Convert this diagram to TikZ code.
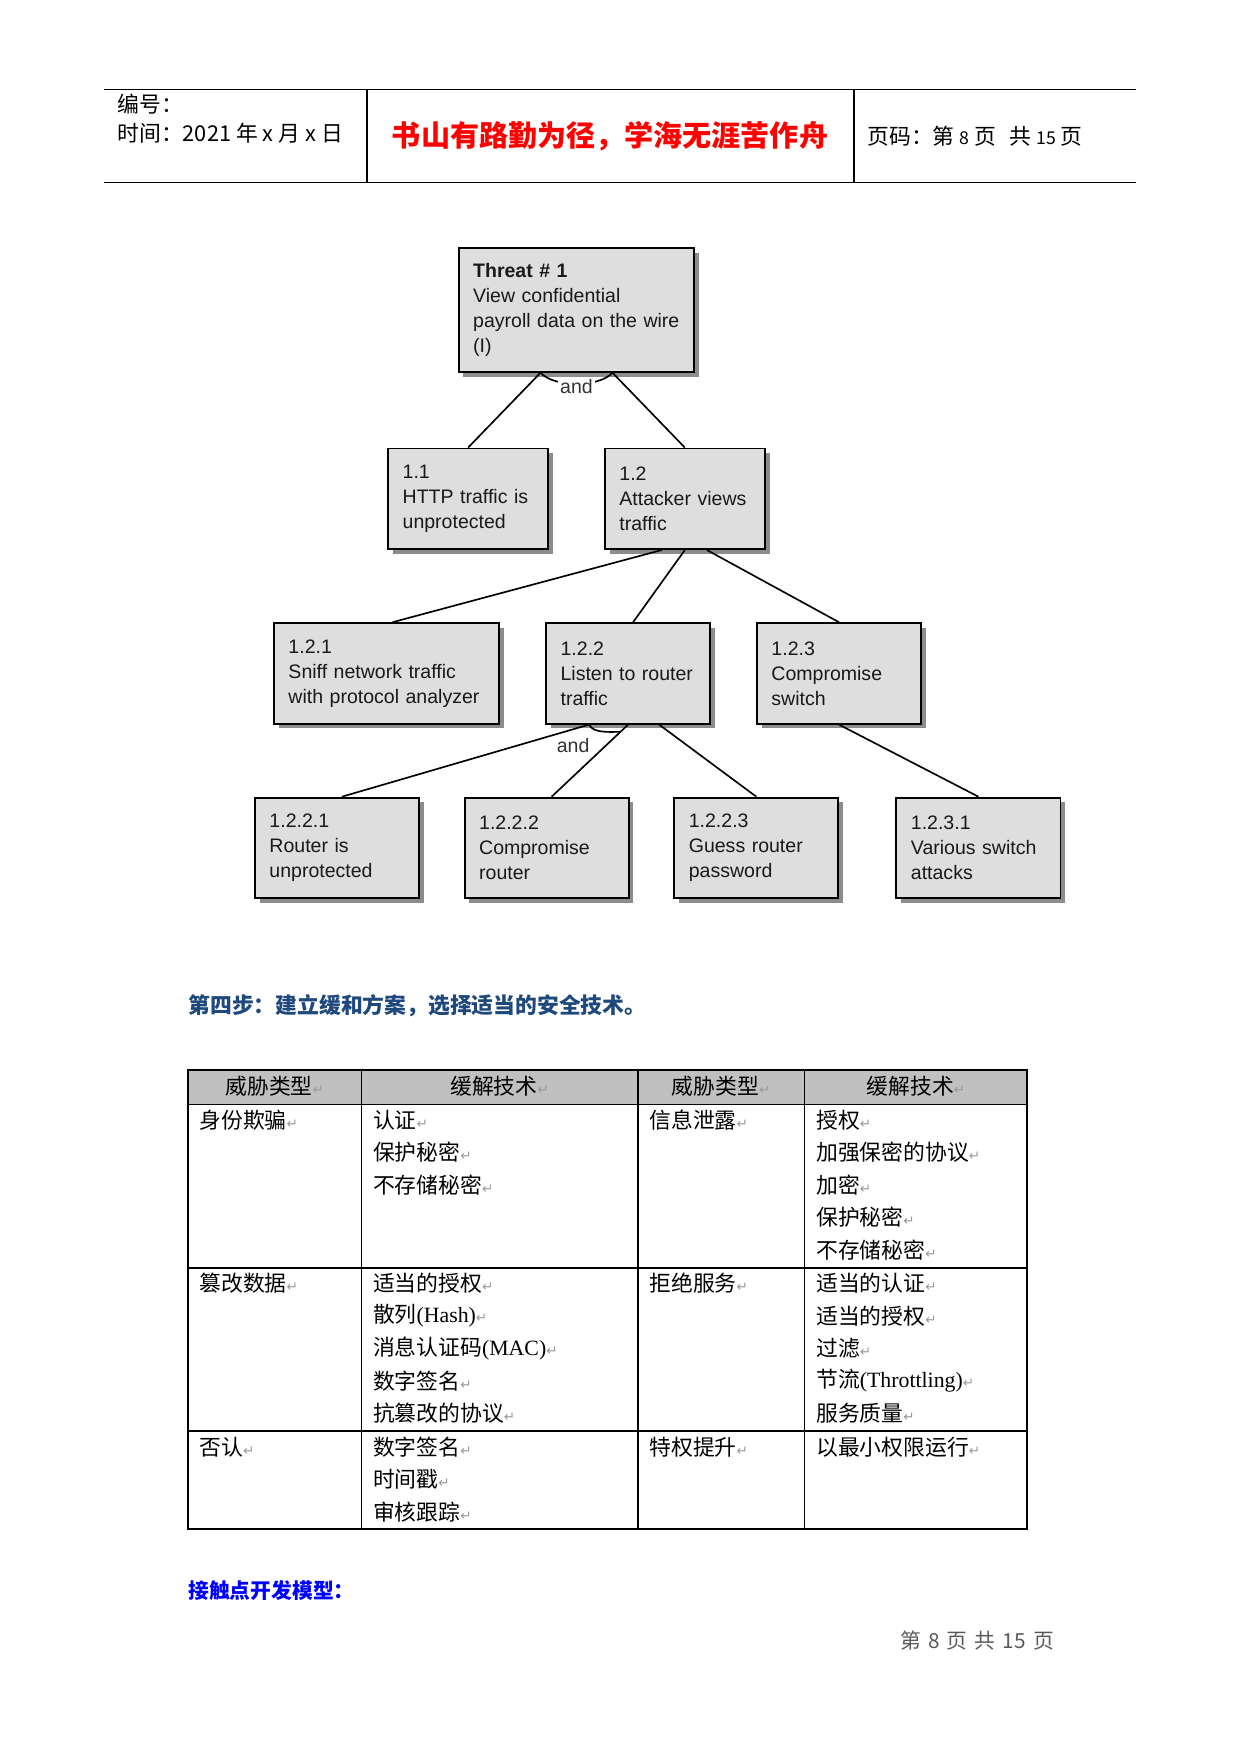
\documentclass[tikz,border=0pt]{standalone}
\usepackage{fontspec}
\usepackage{xcolor}
\setmainfont{Liberation Serif}
\setsansfont{Liberation Sans}
\newfontfamily\cjk{Noto Sans CJK SC}
\newfontfamily\symfont{DejaVu Sans}
\usetikzlibrary{positioning,calc,shadows}
\definecolor{boxgray}{RGB}{222,222,222}
\definecolor{headgray}{RGB}{192,192,192}
\definecolor{stepblue}{RGB}{31,73,125}
\definecolor{titlered}{RGB}{255,0,0}
\definecolor{footgray}{RGB}{90,90,90}
\newcommand{\pmark}{{\symfont\fontsize{6.5pt}{7pt}\selectfont\color{black!40}↵}}

\begin{document}
\begin{tikzpicture}[
  x=0.16922mm, y=-0.16922mm,
  node distance=7.6mm,
  tbox/.style={draw, line width=0.9pt, fill=boxgray, text width=#1,
    minimum height=48.4pt, inner xsep=7pt, align=left, anchor=north west,
    font=\sffamily\fontsize{9.4pt}{12pt}\selectfont, text=black!90,
    drop shadow={shadow xshift=0.8mm, shadow yshift=-0.8mm,
      fill=black!45, opacity=1}},
  tbox/.default=65pt,
  conn/.style={line width=0.8pt},
  andlbl/.style={font=\sffamily\fontsize{9.4pt}{12pt}\selectfont,
    text=black!80, inner sep=1pt},
  hdrtxt/.style={font=\cjk\fontsize{10.5pt}{12pt}\selectfont,
    inner sep=0pt, anchor=west},
  hdr/.style={font=\cjk\fontsize{10.5pt}{12pt}\selectfont, inner sep=0pt},
  cell/.style={font=\cjk\fontsize{10.5pt}{12pt}\selectfont, inner sep=0pt,
    anchor=west},
  tline/.style={line width=0.7pt},
]
\fill[white] (0,0) rectangle (1241,1754);
\useasboundingbox (0,0) rectangle (1241,1754);

% page header
\draw[line width=0.6pt] (104,89.5) -- (1136,89.5);
\draw[line width=0.6pt] (104,182.4) -- (1136,182.4);
\draw[line width=1.1pt] (367,89.5) -- (367,182.4);
\draw[line width=0.5pt] (854,89.5) -- (854,182.4);
\node[hdrtxt] (num) at (117,104) {编号：};
\node[hdrtxt] (date) at (117,133) {时间：2021 年 x 月 x 日};
\node[font=\cjk\bfseries\fontsize{14pt}{16pt}\selectfont, text=titlered,
  inner sep=0pt] (motto) at (610,136.5) {书山有路勤为径，学海无涯苦作舟};
\node[hdrtxt] (page) at (867,136.5)
  {页码：第 {\fontsize{8.5pt}{10pt}\selectfont 8} 页\hspace{0.4em} 共 {\fontsize{8.5pt}{10pt}\selectfont 15} 页};

% threat tree
\node[tbox=99.5pt, minimum height=59.5pt] (T) at (457.7,247.3)
  {\textbf{Threat \# 1}\\View confidential\\payroll data on the wire\\(I)};
\node[tbox=63pt] (B11) at (387.2,447.6) {1.1\\HTTP traffic is\\unprotected};
\node[tbox=63pt, right=9.3mm of B11] (B12) {1.2\\Attacker views\\traffic};
\node[tbox=94.5pt] (B121) at (273,622.2)
  {1.2.1\\Sniff network traffic\\with protocol analyzer};
\node[tbox, right=of B121] (B122) {1.2.2\\Listen to router\\traffic};
\node[tbox, right=of B122] (B123) {1.2.3\\Compromise\\switch};
\node[tbox] (B1221) at (254,796.7) {1.2.2.1\\Router is\\unprotected};
\node[tbox, right=7.4mm of B1221] (B1222) {1.2.2.2\\Compromise\\router};
\node[tbox, right=7.4mm of B1222] (B1223) {1.2.2.3\\Guess router\\password};
\node[tbox, right=9.5mm of B1223] (B1231) {1.2.3.1\\Various switch\\attacks};

% links, root
\coordinate (Tl) at ($(T.south)+(-36,0)$);
\coordinate (Tr) at ($(T.south)+(36,0)$);
\draw[conn] (Tl) -- (B11.north);
\draw[conn] (Tr) -- (B12.north);
\draw[conn] (Tl) .. controls +(14,15) and +(-14,15) ..
  node[andlbl, fill=white, yshift=-1pt] (and1) {and} (Tr);
% links, 1.2
\draw[conn] ($(B12.south)+(-23,0)$) -- ($(B121.north)+(6,0)$);
\draw[conn] (B12.south) -- ($(B122.north)+(5,0)$);
\draw[conn] ($(B12.south)+(22,0)$) -- (B123.north);
% links, 1.2.2
\coordinate (Ql) at ($(B122.south)+(-39,0)$);
\coordinate (Qm) at ($(B1222.north)+(5,0)$);
\draw[conn] (Ql) -- ($(B1221.north)+(5,0)$);
\draw[conn] (B122.south) -- (Qm);
\draw[conn] ($(B122.south)+(31,0)$) -- (B1223.north);
\draw[conn] (Ql) .. controls +(4,9) and +(-10,0) .. ($(B122.south)!0.1!(Qm)$);
\node[andlbl] (and2) at ($(B122.south)+(-55,21)$) {and};
% links, 1.2.3
\draw[conn] (B123.south) -- (B1231.north);

% step 4 heading
\node[font=\cjk\bfseries\fontsize{10.5pt}{12pt}\selectfont, text=stepblue,
  anchor=west, inner sep=0pt] (step4) at (188,1006)
  {第四步：建立缓和方案，选择适当的安全技术。};

% mitigation table
\fill[headgray] (188,1069.8) rectangle (1027.3,1104.5);
\draw[line width=0.9pt] (188,1069.8) rectangle (1027.3,1528.6);
\foreach \yy in {1104.5,1267.8,1431.2}
  \draw[tline] (188,\yy) -- (1027.3,\yy);
\foreach \xx in {361.4,637.8,804.6}
  \draw[tline] (\xx,1069.8) -- (\xx,1528.6);
\node[hdr] (h1) at (274.7,1086.5) {威胁类型\pmark};
\node[hdr] (h2) at (499.6,1086.5) {缓解技术\pmark};
\node[hdr] (h3) at (721.2,1086.5) {威胁类型\pmark};
\node[hdr] (h4) at (916,1086.5) {缓解技术\pmark};
% row 1
\node[cell] (r1a) at (199,1120) {身份欺骗\pmark};
\foreach \t [count=\i from 0] in {认证,保护秘密,不存储秘密}
  \node[cell] (r1b-\i) at (372.6,{1120+\i*32.45}) {\t\pmark};
\node[cell] (r1c) at (649,1120) {信息泄露\pmark};
\foreach \t [count=\i from 0] in {授权,加强保密的协议,加密,保护秘密,不存储秘密}
  \node[cell] (r1d-\i) at (815.8,{1120+\i*32.45}) {\t\pmark};
% row 2
\node[cell] (r2a) at (199,1283.5) {篡改数据\pmark};
\foreach \t [count=\i from 0] in {适当的授权,散列\textrm{(Hash)},
    消息认证码\textrm{(MAC)},数字签名,抗篡改的协议}
  \node[cell] (r2b-\i) at (372.6,{1283.5+\i*32.45}) {\t\pmark};
\node[cell] (r2c) at (649,1283.5) {拒绝服务\pmark};
\foreach \t [count=\i from 0] in {适当的认证,适当的授权,过滤,
    节流\textrm{(Throttling)},服务质量}
  \node[cell] (r2d-\i) at (815.8,{1283.5+\i*32.45}) {\t\pmark};
% row 3
\node[cell] (r3a) at (199,1446.9) {否认\pmark};
\foreach \t [count=\i from 0] in {数字签名,时间戳,审核跟踪}
  \node[cell] (r3b-\i) at (372.6,{1446.9+\i*32.45}) {\t\pmark};
\node[cell] (r3c) at (649,1446.9) {特权提升\pmark};
\node[cell] (r3d) at (815.8,1446.9) {以最小权限运行\pmark};

% touchpoint heading and footer
\node[font=\cjk\bfseries\fontsize{10pt}{12pt}\selectfont, text=blue,
  anchor=west, inner sep=0pt] (touch) at (188,1591) {接触点开发模型：};
\node[font=\cjk\fontsize{10pt}{12pt}\selectfont, text=footgray,
  inner sep=0pt] (foot) at (977,1641)
  {第\hspace{0.35em}8\hspace{0.35em}页\hspace{0.35em}共\hspace{0.35em}15\hspace{0.35em}页};
\end{tikzpicture}
\end{document}
